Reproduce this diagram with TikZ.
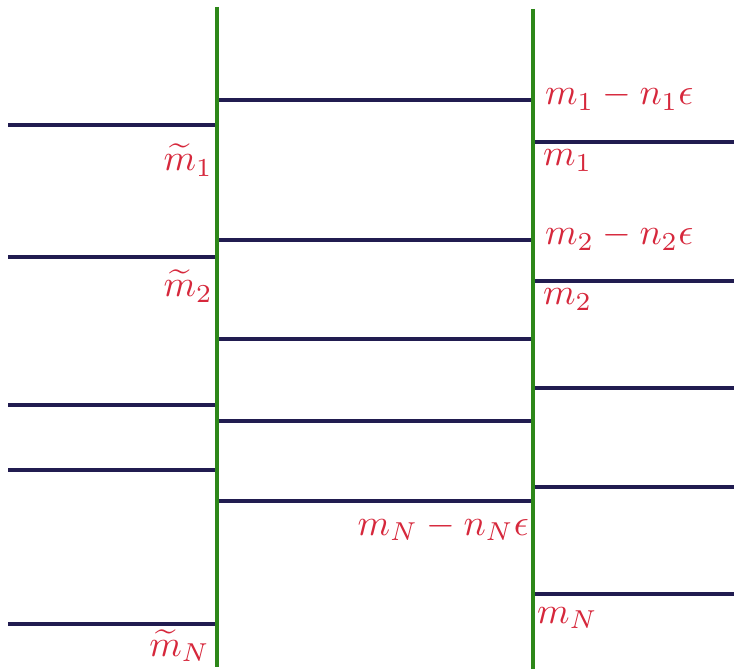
\documentclass[tikz,border=0pt]{standalone}
\usepackage{graphicx}
\definecolor{navy}{RGB}{33,28,80}
\definecolor{grn}{RGB}{45,135,25}
\definecolor{lbl}{RGB}{214,40,60}
\begin{document}
\begin{tikzpicture}[x=1pt,y=-1pt,
  hline/.style={draw=navy,line width=3.3pt},
  vline/.style={draw=grn,line width=3.3pt},
  lab/.style={text=lbl,inner sep=0pt}]
\useasboundingbox (0,0) rectangle (734,671);
\coordinate (gl1) at (217,7); \coordinate (gl2) at (217,667);
\coordinate (gr1) at (533,9); \coordinate (gr2) at (533,669);
\foreach \y [count=\i] in {125,257,405,470,624} {
  \coordinate (la\i) at (8,\y); \coordinate (lb\i) at (217,\y);
  \draw[hline] (la\i) -- (lb\i);
}
\foreach \y [count=\i] in {100,240,339,421,501} {
  \coordinate (ma\i) at (217,\y); \coordinate (mb\i) at (533,\y);
  \draw[hline] (ma\i) -- (mb\i);
}
\foreach \y [count=\i] in {142,281,388,487,594} {
  \coordinate (ra\i) at (533,\y); \coordinate (rb\i) at (734,\y);
  \draw[hline] (ra\i) -- (rb\i);
}
\draw[vline] (gl1) -- (gl2);
\draw[vline] (gr1) -- (gr2);
\node[lab, anchor=base east] (t1) at (213,171) {\scalebox{3.7}{$\widetilde{m}_1$}};
\node[lab, anchor=base east] (t2) at (213,297) {\scalebox{3.7}{$\widetilde{m}_2$}};
\node[lab, anchor=base east] (tN) at (210,656) {\scalebox{3.7}{$\widetilde{m}_N$}};
\node[lab, anchor=base west] (a1) at (545,105) {\scalebox{3.7}{$m_1-n_1\epsilon$}};
\node[lab, anchor=base west] (b1) at (543,166) {\scalebox{3.7}{$m_1$}};
\node[lab, anchor=base west] (a2) at (545,245) {\scalebox{3.7}{$m_2-n_2\epsilon$}};
\node[lab, anchor=base west] (b2) at (543,305) {\scalebox{3.7}{$m_2$}};
\node[lab, anchor=base east] (aN) at (529,535) {\scalebox{3.7}{$m_N-n_N\epsilon$}};
\node[lab, anchor=base west] (bN) at (537,623) {\scalebox{3.7}{$m_N$}};
\end{tikzpicture}
\end{document}
